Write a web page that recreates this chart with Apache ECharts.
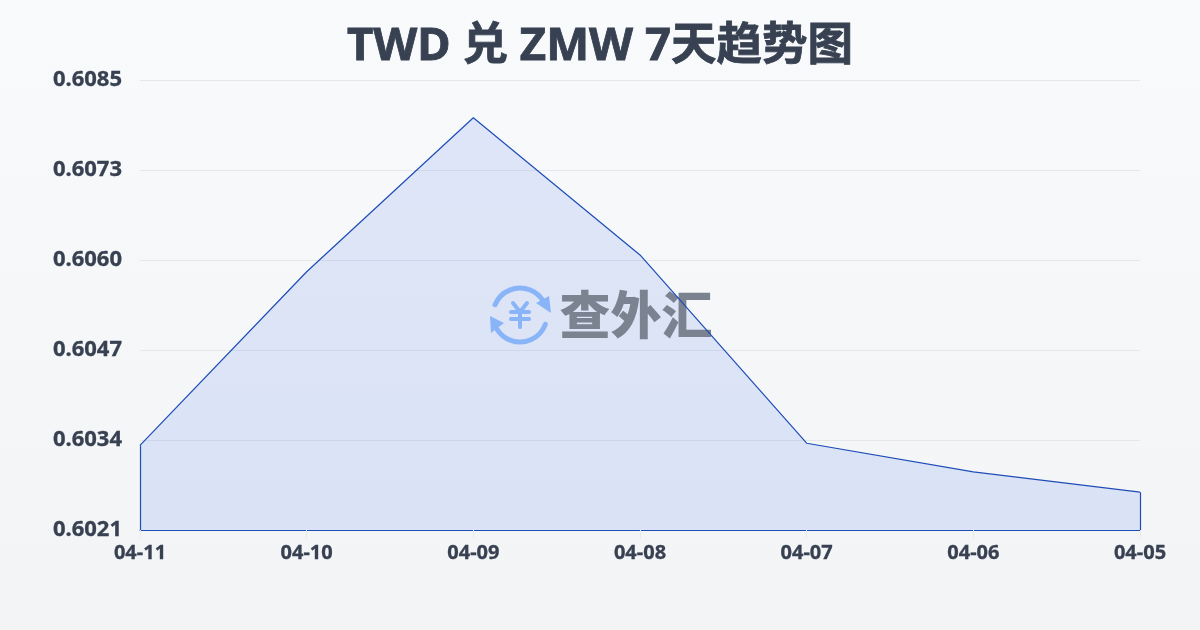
<!DOCTYPE html>
<html>
<head>
<meta charset="utf-8">
<style>html,body{margin:0;padding:0}#main{width:1200px;height:630px}</style>
<script src="https://cdn.jsdelivr.net/npm/echarts@6/dist/echarts.min.js"></script>
</head>
<body>
<div id="main"></div>
<script>
var titleText = 'TWD 兑 ZMW 7天趋势图';
var categories = ['04-11', '04-10', '04-09', '04-08', '04-07', '04-06', '04-05'];
var rates = [0.60332, 0.60580, 0.60800, 0.60604, 0.60335, 0.60294, 0.60265];
var yTicks = [0.60211, 0.603396, 0.604682, 0.605968, 0.607254, 0.60854];

var font = '"Noto Sans", "Noto Sans CJK SC", sans-serif';
var lineColor = '#1e4db7';
var textColor = '#374151';
var iconColor = '#8ab4f8';
var last = categories.length - 1;

var chart = echarts.init(document.getElementById('main'));

function iconLine(x1, y1, x2, y2) {
  return {
    type: 'line', z: 2, silent: true,
    shape: { x1: x1, y1: y1, x2: x2, y2: y2 },
    style: { stroke: iconColor, lineWidth: 4, lineCap: 'round' }
  };
}

// 背景和水印
var graphics = [
  {
    type: 'rect', z: -10, silent: true,
    shape: { x: 0, y: 0, width: 1200, height: 630 },
    style: { fill: new echarts.graphic.LinearGradient(0, 0, 0, 1, [
      { offset: 0, color: '#f9fafc' },
      { offset: 1, color: '#f3f4f6' }
    ]) }
  },
  { type: 'arc', z: 2, silent: true, shape: { cx: 520, cy: 315, r: 27, startAngle: -2.75, endAngle: -0.55 },
    style: { stroke: iconColor, lineWidth: 5, fill: null, lineCap: 'round' } },
  { type: 'arc', z: 2, silent: true, shape: { cx: 520, cy: 315, r: 27, startAngle: 0.35, endAngle: 2.6 },
    style: { stroke: iconColor, lineWidth: 5, fill: null, lineCap: 'round' } },
  { type: 'polygon', z: 2, silent: true, shape: { points: [[549, 296], [551, 313], [536, 303]] }, style: { fill: iconColor } },
  { type: 'polygon', z: 2, silent: true, shape: { points: [[490, 316], [504, 323], [491, 333]] }, style: { fill: iconColor } },
  iconLine(513, 303, 520, 312),
  iconLine(527, 303, 520, 312),
  iconLine(511, 312, 529, 312),
  iconLine(511, 319, 529, 319),
  iconLine(520, 312, 520, 327),
  { type: 'text', z: 2, silent: true, x: 636, y: 315,
    style: { text: '查外汇', fill: '#7b8290', font: '900 51px "Noto Sans CJK SC"', align: 'center', verticalAlign: 'middle' } }
];

var option = {
  animation: false,
  graphic: graphics,
  title: {
    text: titleText,
    left: 'center',
    top: 19,
    textStyle: {
      fontFamily: font, fontSize: 45.5, fontWeight: 'bold', color: textColor,
      textBorderColor: textColor, textBorderWidth: 0.8
    }
  },
  grid: { left: 140, right: 60, top: 80, bottom: 100 },
  xAxis: {
    type: 'category',
    data: categories,
    boundaryGap: false,
    axisLine: { lineStyle: { color: lineColor, width: 1 } },
    axisTick: { show: true, length: 8, lineStyle: { color: '#e8e9ea' } },
    axisLabel: {
      color: textColor, fontFamily: font, fontSize: 20, fontWeight: 'bold', margin: 13,
      textBorderColor: textColor, textBorderWidth: 0.3
    }
  },
  yAxis: {
    type: 'value',
    min: yTicks[0],
    max: yTicks[yTicks.length - 1],
    axisLine: { show: false },
    axisTick: { show: false, customValues: yTicks },
    axisLabel: {
      customValues: yTicks,
      color: textColor, fontFamily: font, fontSize: 22, fontWeight: 'bold', margin: 18,
      textBorderColor: textColor, textBorderWidth: 0.3,
      formatter: function (v) { return v.toFixed(4); }
    },
    splitLine: { lineStyle: { color: '#e5e7eb', width: 1 } }
  },
  series: [
    {
      // 面积
      type: 'line',
      z: 1,
      data: rates,
      symbol: 'none',
      lineStyle: { width: 0 },
      areaStyle: { color: 'rgba(37, 99, 235, 0.18)', origin: 'start' }
    },
    {
      // 折线和两侧竖线，压在水印上面
      type: 'line',
      z: 3,
      data: rates,
      symbol: 'none',
      lineStyle: { color: lineColor, width: 1.2 },
      markLine: {
        silent: true,
        symbol: 'none',
        label: { show: false },
        lineStyle: { color: lineColor, width: 1.2, type: 'solid' },
        data: [
          [{ coord: [categories[0], yTicks[0]] }, { coord: [categories[0], rates[0]] }],
          [{ coord: [categories[last], yTicks[0]] }, { coord: [categories[last], rates[last]] }]
        ]
      }
    }
  ]
};

chart.setOption(option);
</script>
</body>
</html>
